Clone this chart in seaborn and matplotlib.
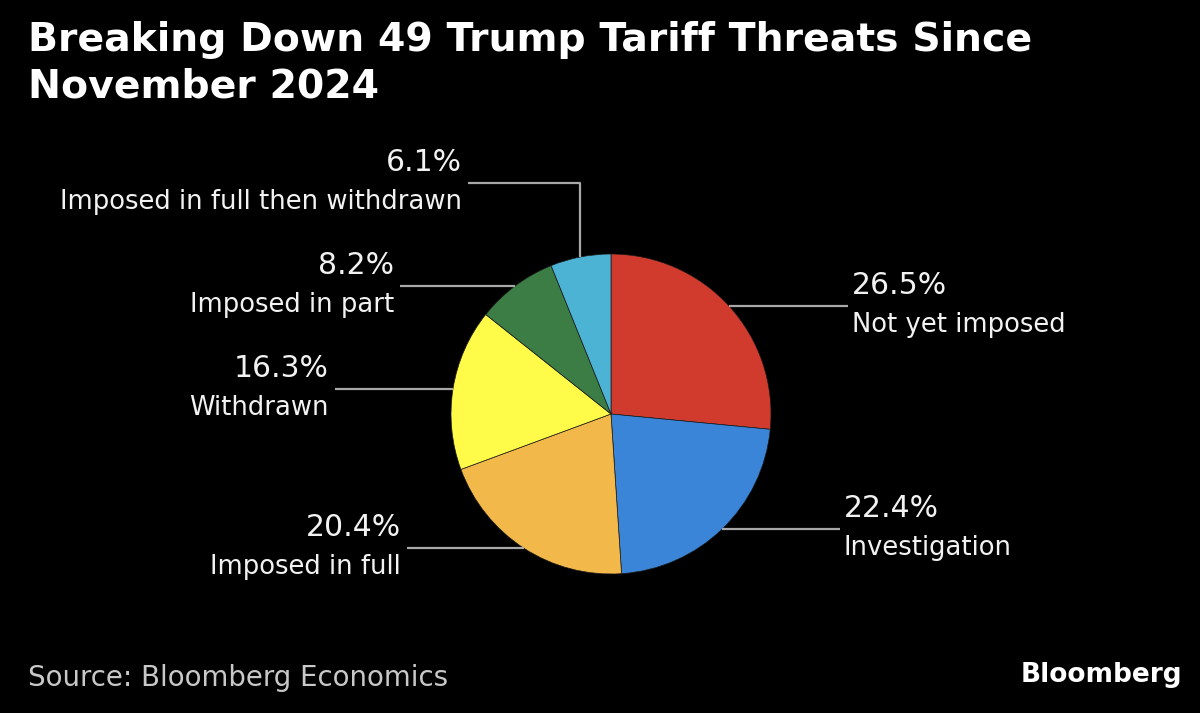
import numpy as np
import matplotlib
matplotlib.use("Agg")
import matplotlib.pyplot as plt
import seaborn as sns

# data, clockwise from 12 o'clock
categories = ["Not yet imposed", "Investigation", "Imposed in full",
              "Withdrawn", "Imposed in part", "Imposed in full then withdrawn"]
shares = [26.5, 22.4, 20.4, 16.3, 8.2, 6.1]
slice_colors = ["#D03B2E", "#3A85D8", "#F2B94A", "#FFFB48", "#3B7D45", "#4DB3D4"]

title = "Breaking Down 49 Trump Tariff Threats Since\nNovember 2024"
source = "Source: Bloomberg Economics"

sns.set_theme(style="dark", rc={"figure.facecolor": "black", "axes.facecolor": "black"})
plt.rcParams["font.family"] = ["DejaVu Sans"]

W, H = 1200, 713
fig = plt.figure(figsize=(W / 100, H / 100), dpi=100)
ax = fig.add_axes([0, 0, 1, 1])

def py(y):
    # pixel row (from top) -> data y
    return H - y

cx, cy, r = 611, py(414), 160
wedges, _ = ax.pie(shares, colors=sns.color_palette(slice_colors), startangle=90,
                   counterclock=False, center=(cx, cy), radius=r,
                   wedgeprops=dict(linewidth=0.5, edgecolor="#1a1a1a"))

ax.set_xlim(0, W)
ax.set_ylim(0, H)
ax.set_aspect("equal")
ax.axis("off")

# where each leader line ends (pixel x), and elbow height for the thin slice
line_end_x = [848, 840, 407, 335, 400, 468]
elbow_row = {5: 183}

line_col = "#A8A8A8"
txt_col = "#F2F2F2"
for i, w in enumerate(wedges):
    mid = np.deg2rad((w.theta1 + w.theta2) / 2)
    x0 = cx + r * np.cos(mid)
    y0 = cy + r * np.sin(mid)
    xe = line_end_x[i]
    if i in elbow_row:
        ye = py(elbow_row[i])
        ax.plot([x0, x0, xe], [y0, ye, ye], color=line_col, lw=1.6, solid_capstyle="butt")
    else:
        ye = y0
        ax.plot([x0, xe], [y0, ye], color=line_col, lw=1.6, solid_capstyle="butt")
    right = xe > cx
    tx = xe + 4 if right else xe - 6
    ha = "left" if right else "right"
    ax.text(tx, ye + 6, f"{shares[i]:.1f}%", color=txt_col, fontsize=21.5,
            ha=ha, va="bottom")
    ax.text(tx, ye - 6, categories[i], color=txt_col, fontsize=18.6,
            ha=ha, va="top")

fig.text(28 / W, 1 - 21 / H, title, color="white", fontsize=28.4, fontweight="bold",
         ha="left", va="top", linespacing=1.3)
fig.text(28 / W, 1 - 678 / H, source, color="#C8C8C8", fontsize=19.9,
         ha="left", va="center")
fig.text(1182 / W, 1 - 675 / H, "Bloomberg", color="white", fontsize=19,
         fontweight="bold", ha="right", va="center")

fig.savefig("out.png", dpi=100, facecolor="black")
